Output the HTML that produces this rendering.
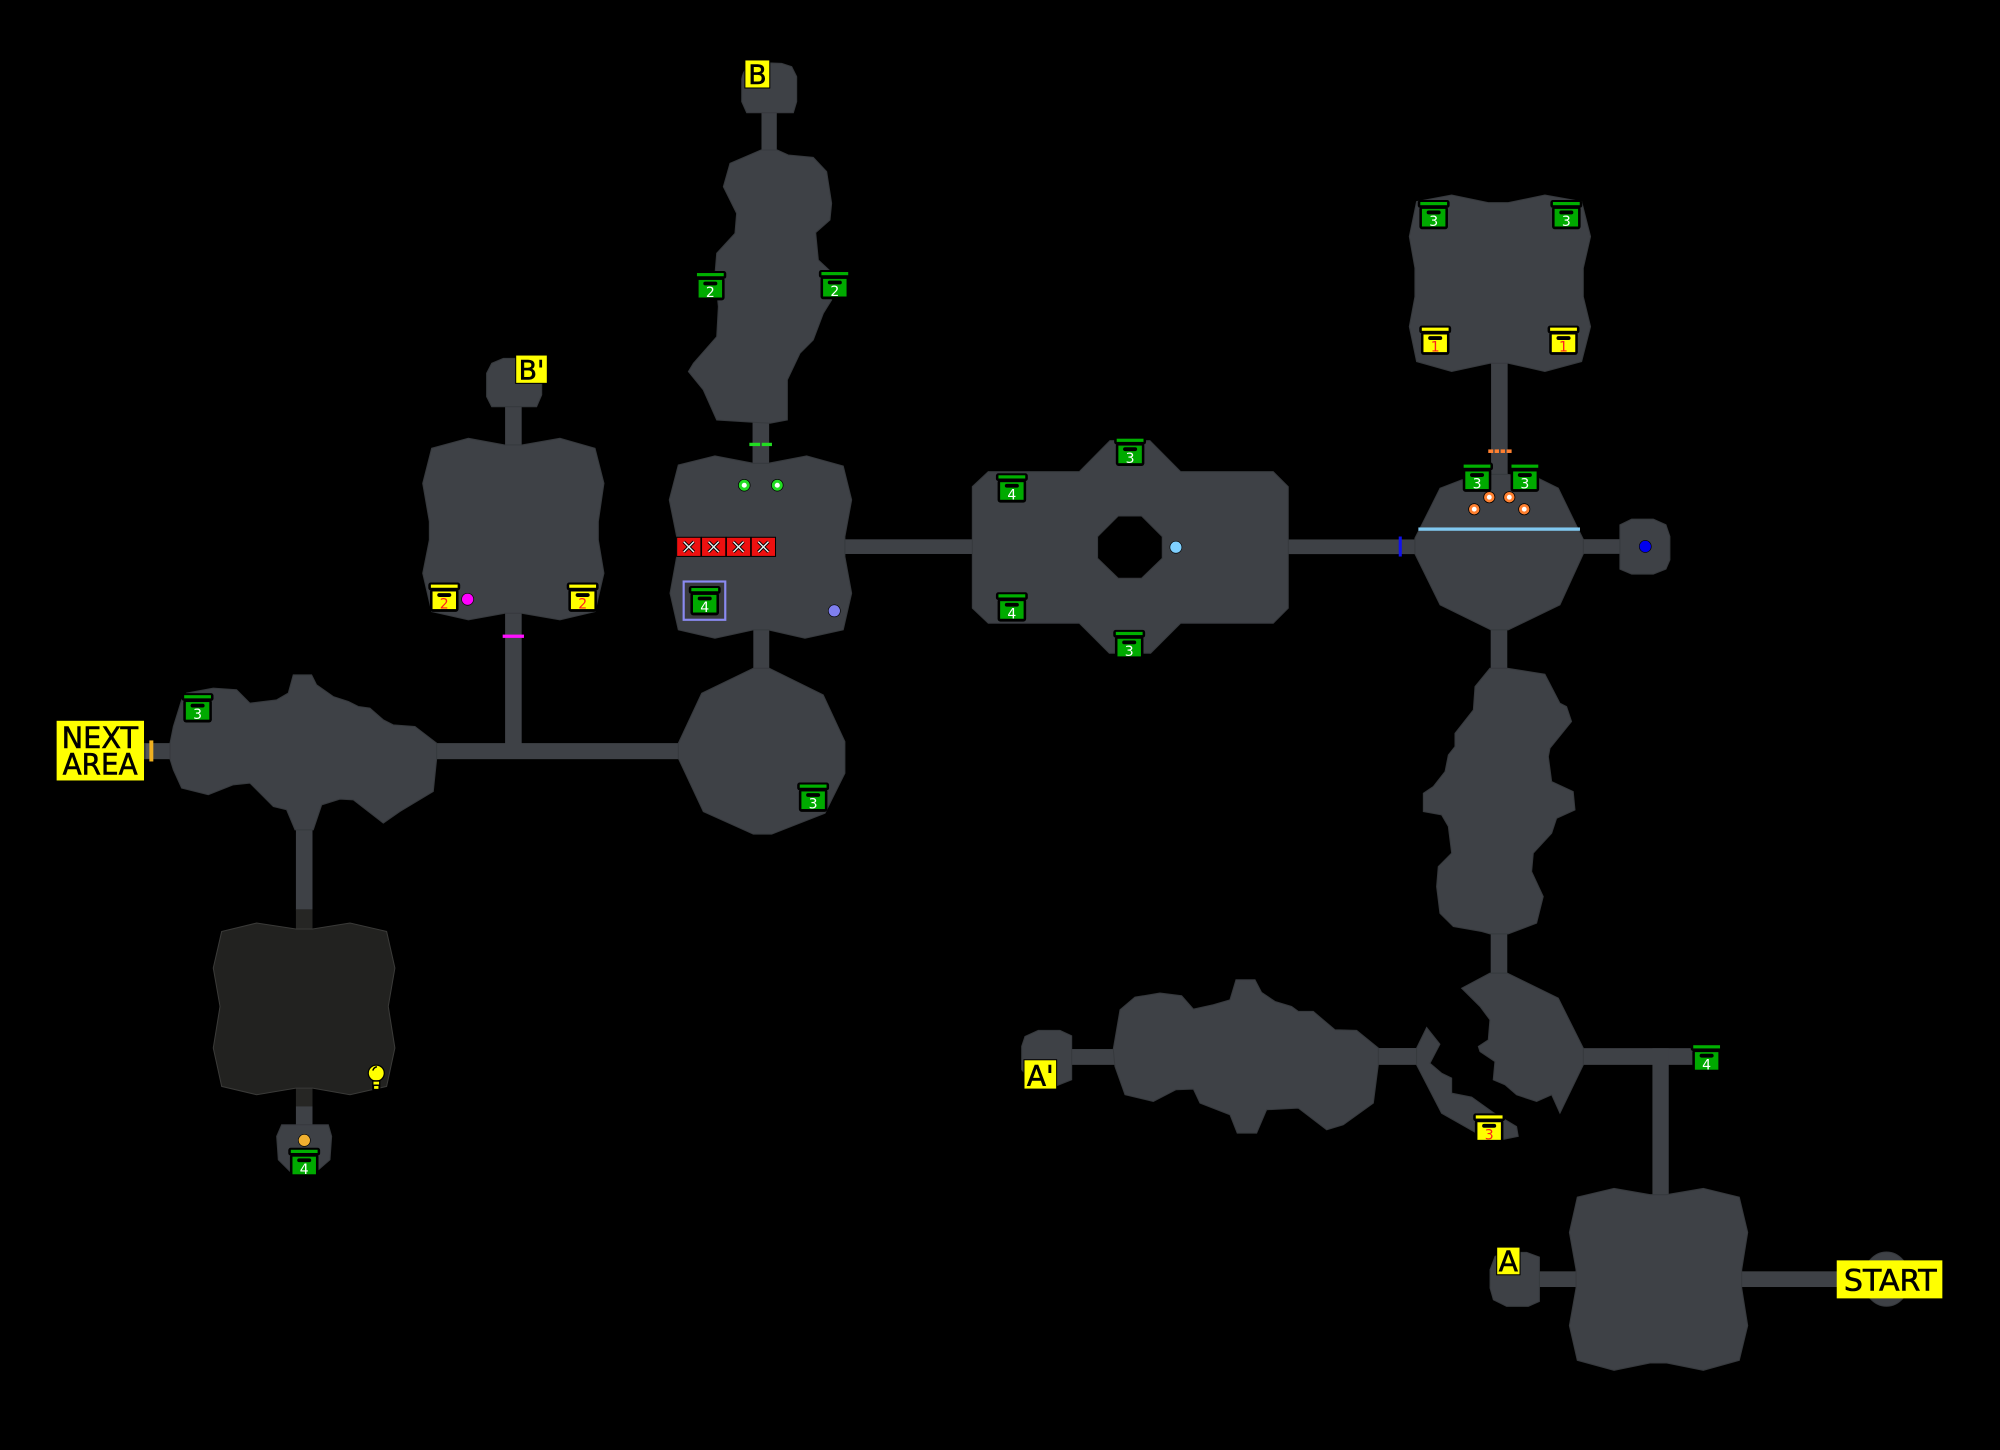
<!DOCTYPE html>
<html>
<head>
<meta charset="utf-8">
<style>
  html, body { margin:0; padding:0; background:#000; }
  body { width:2000px; height:1450px; overflow:hidden; }
  svg { display:block; }
  .r { fill:#3e4146; stroke:#36393d; stroke-width:0.8; }
  .c { fill:#3e4146; }
  .lbl { font-family:"DejaVu Sans","Liberation Sans",sans-serif; fill:#000; stroke:#000; stroke-width:0.45; }
  .num { font-family:"DejaVu Sans","Liberation Sans",sans-serif; font-size:11px; text-anchor:middle; }
</style>
</head>
<body>
<svg width="2000" height="1450" viewBox="0 0 1568 1137" preserveAspectRatio="none" xmlns="http://www.w3.org/2000/svg" xmlns:xlink="http://www.w3.org/1999/xlink">
<defs>
  <g id="cg">
    <rect x="0" y="0" width="25" height="6.2" rx="2" fill="#000"/>
    <rect x="2" y="1.6" width="21" height="2.5" fill="#00b000"/>
    <rect x="1.3" y="5" width="22.4" height="18" rx="2.2" fill="#000"/>
    <rect x="3.3" y="7" width="18.4" height="13.8" fill="#00aa00"/>
    <rect x="7" y="8.3" width="11" height="3" rx="1.5" fill="#000"/>
  </g>
  <g id="cy">
    <rect x="0" y="0" width="25" height="6.2" rx="2" fill="#000"/>
    <rect x="2" y="1.6" width="21" height="2.5" fill="#ffff00"/>
    <rect x="1.3" y="5" width="22.4" height="18" rx="2.2" fill="#000"/>
    <rect x="3.3" y="7" width="18.4" height="13.8" fill="#ffff00"/>
    <rect x="7" y="8.3" width="11" height="3" rx="1.5" fill="#000"/>
  </g>
  <g id="rb">
    <rect x="0" y="0" width="19" height="15" fill="#ee1010" stroke="#000" stroke-width="0.8"/>
    <path d="M5.5 3.5 L13.5 11.5 M13.5 3.5 L5.5 11.5" stroke="#000" stroke-width="2.6"/>
    <path d="M5.5 3.5 L13.5 11.5 M13.5 3.5 L5.5 11.5" stroke="#e8f0f0" stroke-width="1.1"/>
  </g>
</defs>

<rect x="0" y="0" width="1568" height="1137" fill="#000"/>

<!-- ===== corridors ===== -->
<rect class="c" x="597" y="85" width="12" height="36"/>
<rect class="c" x="590" y="328" width="13" height="38"/>
<rect class="c" x="396" y="316" width="13" height="34"/>
<rect class="c" x="396" y="479" width="13" height="106"/>
<rect class="c" x="338" y="582.7" width="196" height="12.6"/>
<rect class="c" x="113" y="582.7" width="23" height="12.6"/>
<rect class="c" x="232" y="645" width="13" height="69"/>
<rect x="232" y="713" width="13" height="17" fill="#262624"/>
<rect x="232" y="852" width="13" height="16" fill="#262624"/>
<rect class="c" x="232" y="867.6" width="13" height="16"/>
<rect class="c" x="590.6" y="494" width="12.5" height="32"/>
<rect class="c" x="660" y="422.9" width="105" height="11.5"/>
<rect class="c" x="1008" y="423" width="104" height="11.5"/>
<rect class="c" x="1238" y="422.8" width="34" height="11.5"/>
<rect class="c" x="1169" y="282" width="13" height="96"/>
<rect class="c" x="1168.7" y="489" width="13" height="38"/>
<rect class="c" x="1168.7" y="729" width="13" height="37"/>
<rect class="c" x="838" y="822.6" width="37" height="12.4"/>
<rect class="c" x="1078" y="821.8" width="34" height="13.2"/>
<rect class="c" x="1238" y="821.9" width="92" height="13.1"/>
<rect class="c" x="1295.5" y="822" width="12.8" height="120"/>
<rect class="c" x="1204" y="996.9" width="34" height="12.3"/>
<rect class="c" x="1362" y="996.9" width="84" height="12.3"/>

<!-- ===== rooms ===== -->
<path class="r" d="M581.5 79.7 L581.5 62 Q583 51 595 49 L612.8 49.7 L620.7 52.3 L624.6 60.1 L624.6 79.7 L622 88.4 L585.4 88.4 Z"/>
<polygon class="r" points="572.3,128.1 596.6,117.6 609.4,117.6 618,121.5 637.6,123.4 648.1,134.6 652,159.4 650.7,172.5 639.5,182.4 641.6,203.9 652.8,214.3 652,235.2 645.5,245.7 637.6,266.6 627.2,277 617.3,297.9 617.3,329.3 603.7,331.9 561.9,329.3 551.4,305.8 539.7,291.4 543.6,284.9 561.9,264 563.2,240.4 560.6,214.3 561.9,198.6 576.2,183 577.5,167.3 567.1,146.4"/>
<polygon class="r" points="531.8,364.6 560.5,357.5 590.6,363.3 602.3,363.3 632.4,357.5 661.1,365.4 667.7,392 662.4,420.8 662.4,436.4 667.7,465.2 661.1,493.9 631.1,500.5 602.3,493.9 590.6,493.9 560.5,500.5 531.8,493.9 525.3,465.2 530.5,436.4 530.5,420.8 524.7,392"/>
<polygon class="r" points="381.5,292.7 385.5,284.9 394.6,281 403.7,281 418,283 424.7,292.7 424.7,309.7 420.7,318.9 385.5,318.9 381.5,311"/>
<polygon class="r" points="338.4,351.5 367.2,343.7 395.9,348.9 409,348.9 439,343.7 466.5,351.5 473.5,379 469.1,409 469.1,423.4 473.5,449.5 466.5,479.6 439,486.1 409,480.9 395.9,480.9 367.2,486.1 338.4,479.6 331.4,449.5 336.6,423.4 336.6,409 331.4,379"/>
<polygon class="r" points="590.6,524 603.1,524 645.4,544.9 662.4,581.5 662.4,606.3 646.8,637.7 605,654.1 590.6,654.1 551.4,636.4 531.8,594.6 531.8,582.8 550.1,543.6"/>
<polygon class="r" points="133.3,582.7 135.9,569.7 142.4,548.8 146.3,543.5 167.2,539.6 185.5,540.9 196,551.4 216.9,548.8 226,543.5 229.9,529.2 244.3,529.2 248.2,537 261.3,546.2 273.1,550.1 280.9,554 290,555.3 300.5,564.4 308.3,568.4 325.3,569.7 342.3,582.7 342.3,595.3 339.7,620.6 313.6,636.3 300.5,645.4 277,627.2 266.5,626.6 252.2,631.1 245.6,650.7 231.3,650.7 224.7,635 214.3,632.4 196,614.1 182.9,615.4 163.3,623.2 142.4,618 135.9,603.6 133.3,595.3"/>
<polygon points="173.8,730.4 201.2,723.8 232,728.5 245.1,728.5 274.4,723.8 303.1,730.4 309.6,759.1 304.4,789.2 309.6,821.8 303.1,851.9 274.4,858.4 245.1,853.2 232,853.2 201.2,858.4 173.8,851.9 167.2,821.8 172.5,789.2 167.2,759.1" fill="#222220" stroke="#3a3a38" stroke-width="0.8"/>
<polygon class="r" points="220.8,882 257.4,882 260,891 258.7,909.4 248.2,918.5 227.3,918.5 218.2,909.4 216.9,891"/>
<path class="r" fill-rule="evenodd" d="M774.8,369.8 L846.2,369.8 L870.2,345.5 L901.5,345.5 L925.6,369.8 L998.2,369.8 L1010,381.6 L1010,476.9 L998.2,488.7 L925.6,488.7 L902.1,512.2 L869.7,512.2 L846.2,488.7 L774.8,488.7 L762.3,476.9 L762.3,381.6 Z M876.7,404.6 L895,404.6 L911.2,420.8 L911.2,437.7 L895,453.4 L876.7,453.4 L860.5,437.7 L860.5,420.8 Z"/>
<polygon class="r" points="1110.6,158.1 1138.1,152.9 1166.8,158.9 1182.5,158.9 1211.2,152.9 1240,158.1 1247,185.5 1241.3,210.3 1241.3,232.6 1247,256.1 1240,283.5 1211.2,291.3 1182.5,284.8 1168.1,284.8 1138.1,291.3 1110.6,283.5 1104.9,256.1 1109.3,232.6 1109.3,210.3 1104.9,185.5"/>
<polygon class="r" points="1129,382.8 1146,376.3 1169,372 1182,372 1206,375 1221.7,382.8 1236.1,412.4 1241.3,422.8 1241.3,434.3 1223,474.3 1182.5,493.9 1168.9,493.9 1129,474.3 1109.3,434.3 1109.3,422 1114.6,411.6"/>
<polygon class="r" points="1270,411.5 1279.2,407.1 1296.2,407.1 1306.1,411.5 1309.2,420.7 1309.2,439 1306.1,446.3 1296.2,450.2 1279.2,450.2 1270,446.3"/>
<polygon class="r" points="1168.1,524 1181.7,524 1211.2,528.7 1223,551.4 1228.2,554.1 1232.1,565.8 1215.2,586.7 1213.9,593.3 1216.5,612.9 1233.4,620.7 1234.8,635.1 1220.4,641.6 1216.5,653.4 1202.1,669 1200.8,683.4 1209.9,703 1204.7,723.9 1182.5,732.3 1168.1,732.3 1161.6,730.4 1139.4,726.5 1128.9,716.1 1126.3,695.2 1127.6,679.5 1138.1,669 1135.5,648.1 1130.2,639 1115.9,636.4 1115.9,622 1123.7,616.8 1132.9,605 1135.5,592 1140.7,585.4 1140.7,575 1155.1,556.7 1156.4,538.4"/>
<polygon class="r" points="1168.1,763.1 1181.7,763.1 1221.7,782.7 1241.3,821.9 1241.3,835 1223,872.9 1216.5,858.5 1204.7,863.7 1189,858.5 1179.9,850.6 1170.7,846.7 1172,832.4 1160.3,824.6 1159,820.6 1166.8,815.4 1168.1,799.7 1160.3,789.2 1145.9,774.9"/>
<polygon class="r" points="1110.6,821.9 1118.5,805.7 1128.9,818.8 1121.1,833.7 1130.2,841.5 1138.1,845.4 1138.1,857.2 1153.8,860.3 1170.7,872.4 1189,883.4 1190.3,891.1 1177.3,893.7 1157.7,888.5 1130.2,872.9 1110.6,835"/>
<polygon class="r" points="803.6,812.7 814,808 831,808 840.2,812.2 840.2,846.7 828.4,851.4 812,852 801,838.8 801,820.5"/>
<polygon class="r" points="872.8,822.6 878.1,791.8 889.8,781.9 909.4,778.7 926.4,780.8 935.6,791.3 951.2,787.9 964.3,784 969,768.3 983.9,768.3 989.1,778.2 999.6,785.3 1012.6,789.2 1017.9,793.1 1029.6,793.1 1046.6,807.5 1063.6,808 1080.6,821.8 1080.6,834.9 1076.7,865 1053.1,882 1040.1,885.9 1017.9,868.9 993,870.2 985.2,888.5 970,888.5 964.3,874.1 940.8,865 935.6,854 922,854.5 904.2,863.7 882,858.4 874.1,836.2"/>
<polygon class="r" points="1236.6,938.7 1265.4,931.9 1293.6,936.8 1306.7,936.8 1335.4,931.9 1363.6,938.7 1370.2,966.4 1365.5,995.6 1365.5,1010 1370.2,1039.5 1363.6,1066.7 1335.4,1074.5 1306.7,1068.8 1293.6,1068.8 1265.4,1074.5 1236.6,1066.7 1230.4,1039.5 1235.6,1010 1235.6,995.6 1230.4,966.4"/>
<polygon class="r" points="1172.1,985.2 1181.2,982 1196.9,982 1206.9,985.7 1206.9,1020.5 1198.2,1024.4 1181.2,1024.4 1170.8,1019.2 1168.2,1010 1168.2,995.6"/>
<ellipse class="r" cx="1479" cy="1003" rx="18.3" ry="21.3"/>

<!-- ===== doors / lines ===== -->
<rect x="587.5" y="347.2" width="8.4" height="2.6" fill="#22dd22"/>
<rect x="597.2" y="347.2" width="8" height="2.6" fill="#22dd22"/>
<rect x="394.1" y="497.6" width="16.7" height="2.6" fill="#ff10ff"/>
<rect x="1166.8" y="352.4" width="3.9" height="2.8" fill="#ff8030"/>
<rect x="1171.8" y="352.4" width="3.4" height="2.8" fill="#ff8030"/>
<rect x="1176.5" y="352.4" width="3.4" height="2.8" fill="#ff8030"/>
<rect x="1181.2" y="352.4" width="3.9" height="2.8" fill="#ff8030"/>
<rect x="1096.6" y="420.7" width="2.4" height="15.7" fill="#1010ee"/>
<rect x="1112" y="413.6" width="126.7" height="2.6" fill="#80c8f0"/>
<rect x="114.6" y="583" width="2.5" height="12" fill="#55585c"/>
<rect x="117.1" y="580.6" width="3.1" height="16.5" fill="#f0b020"/>

<!-- ===== markers ===== -->
<circle cx="583.5" cy="380.5" r="4.6" fill="#22dd22" stroke="#000" stroke-width="0.6"/>
<circle cx="583.5" cy="380.5" r="2" fill="#fff"/>
<circle cx="609.4" cy="380.5" r="4.6" fill="#22dd22" stroke="#000" stroke-width="0.6"/>
<circle cx="609.4" cy="380.5" r="2" fill="#fff"/>
<circle cx="366.6" cy="469.9" r="4.7" fill="#ff00ff" stroke="#000" stroke-width="0.5"/>
<circle cx="654.1" cy="479" r="4.7" fill="#7f7fef" stroke="#000" stroke-width="0.5"/>
<circle cx="921.9" cy="429.1" r="4.7" fill="#7fd0ff" stroke="#000" stroke-width="0.5"/>
<circle cx="1289.9" cy="428.5" r="4.7" fill="#0000ee" stroke="#000" stroke-width="0.5"/>
<circle cx="238.6" cy="894.2" r="4.7" fill="#f0b030" stroke="#000" stroke-width="0.5"/>
<g fill="#ff8030" stroke="#000" stroke-width="0.6">
  <circle cx="1167.6" cy="389.9" r="4.4"/>
  <circle cx="1183.3" cy="389.9" r="4.4"/>
  <circle cx="1155.8" cy="399.3" r="4.4"/>
  <circle cx="1195" cy="399.3" r="4.4"/>
</g>
<g fill="#fff">
  <circle cx="1167.6" cy="389.9" r="1.9"/>
  <circle cx="1183.3" cy="389.9" r="1.9"/>
  <circle cx="1155.8" cy="399.3" r="1.9"/>
  <circle cx="1195" cy="399.3" r="1.9"/>
</g>

<!-- light bulb -->
<circle cx="295" cy="841.5" r="6.8" fill="#000"/>
<circle cx="295" cy="841.5" r="5.8" fill="#ffff00"/>
<path d="M292.3 839.5 Q293 837 295.5 836.5" stroke="#000" stroke-width="1.2" fill="none"/>
<rect x="291.8" y="847" width="6.4" height="7.8" fill="#000"/>
<rect x="292.8" y="848.2" width="4.4" height="2.2" fill="#ffff00"/>
<rect x="293.3" y="851.6" width="3.4" height="2.2" fill="#ffff00"/>

<!-- red boxes -->
<use xlink:href="#rb" x="530.5" y="421.3"/>
<use xlink:href="#rb" x="550" y="421.3"/>
<use xlink:href="#rb" x="569.5" y="421.3"/>
<use xlink:href="#rb" x="589" y="421.3"/>

<!-- purple framed chest -->
<rect x="536" y="456" width="32.6" height="30" fill="#3a3b3e" stroke="#8a8af0" stroke-width="1.7"/>

<!-- ===== chests ===== -->
<use xlink:href="#cg" x="544.4" y="212.5"/>
<use xlink:href="#cg" x="642" y="211.7"/>
<use xlink:href="#cg" x="540" y="459.5"/>
<use xlink:href="#cg" x="625" y="613.6"/>
<use xlink:href="#cg" x="142.4" y="543.5"/>
<use xlink:href="#cg" x="226" y="900"/>
<use xlink:href="#cg" x="873.5" y="342.4"/>
<use xlink:href="#cg" x="780.8" y="371.1"/>
<use xlink:href="#cg" x="780.8" y="464.4"/>
<use xlink:href="#cg" x="872.8" y="493.9"/>
<use xlink:href="#cg" x="1111.5" y="156.8"/>
<use xlink:href="#cg" x="1215.5" y="156.8"/>
<use xlink:href="#cg" x="1145.5" y="362.7"/>
<use xlink:href="#cg" x="1183" y="362.7"/>
<use xlink:href="#cg" x="1325.5" y="818"/>
<use xlink:href="#cy" x="335.8" y="456.8"/>
<use xlink:href="#cy" x="444.3" y="456.8"/>
<use xlink:href="#cy" x="1112.7" y="255.3"/>
<use xlink:href="#cy" x="1213.3" y="255.3"/>
<use xlink:href="#cy" x="1155" y="873"/>

<g class="num" fill="#fff">
  <text x="556.9" y="233">2</text>
  <text x="654.5" y="232.2">2</text>
  <text x="552.5" y="480">4</text>
  <text x="637.5" y="634.1">3</text>
  <text x="154.9" y="564">3</text>
  <text x="238.5" y="920.5">4</text>
  <text x="886" y="362.9">3</text>
  <text x="793.3" y="391.6">4</text>
  <text x="793.3" y="484.9">4</text>
  <text x="885.3" y="514.4">3</text>
  <text x="1124" y="177.3">3</text>
  <text x="1228" y="177.3">3</text>
  <text x="1158" y="383.2">3</text>
  <text x="1195.5" y="383.2">3</text>
  <text x="1338" y="838.5">4</text>
</g>
<g class="num" fill="#ff2020">
  <text x="348.3" y="477.3">2</text>
  <text x="456.8" y="477.3">2</text>
  <text x="1125.2" y="275.8">1</text>
  <text x="1225.8" y="275.8">1</text>
  <text x="1167.5" y="893.5">3</text>
</g>

<!-- ===== labels ===== -->
<rect x="584" y="47" width="19.5" height="22" fill="#ffff00" stroke="#000" stroke-width="0.8"/>
<text class="lbl" x="593.8" y="66" font-size="21" text-anchor="middle">B</text>

<rect x="404.3" y="278.4" width="24.8" height="22.2" fill="#ffff00" stroke="#000" stroke-width="0.8"/>
<text class="lbl" x="416.7" y="297.5" font-size="21" text-anchor="middle">B'</text>

<rect x="44.4" y="565.2" width="68.5" height="46.8" fill="#ffff00"/>
<text class="lbl" x="48.3" y="586.6" font-size="23" textLength="60" lengthAdjust="spacingAndGlyphs">NEXT</text>
<text class="lbl" x="49.1" y="607.5" font-size="23" textLength="58.8" lengthAdjust="spacingAndGlyphs">AREA</text>

<rect x="802.8" y="831" width="25.6" height="23" fill="#ffff00" stroke="#000" stroke-width="0.8"/>
<text class="lbl" x="815.6" y="851.5" font-size="22" text-anchor="middle">A'</text>

<rect x="1173.4" y="977.9" width="18.3" height="21.7" fill="#ffff00" stroke="#000" stroke-width="0.8"/>
<text class="lbl" x="1182.5" y="997" font-size="22" text-anchor="middle">A</text>

<rect x="1440" y="988.3" width="82.8" height="29.8" fill="#ffff00"/>
<text class="lbl" x="1445.6" y="1011.8" font-size="23" textLength="72.7" lengthAdjust="spacingAndGlyphs">START</text>
</svg>
</body>
</html>
